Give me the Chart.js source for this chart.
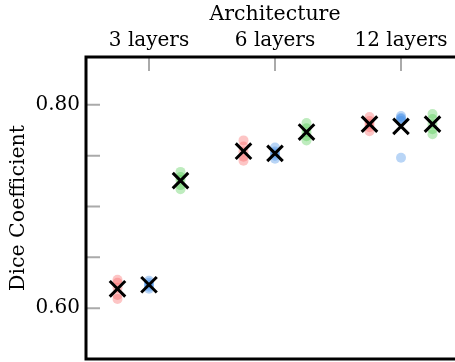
<!DOCTYPE html>
<html>
<head>
<meta charset="utf-8">
<script src="https://cdn.jsdelivr.net/npm/chart.js@4"></script>
<style>
  html, body { margin: 0; padding: 0; background: #fff; overflow: hidden; }
  #wrap { position: relative; width: 470px; height: 362px; }
</style>
</head>
<body>
<div id="wrap"><canvas id="diceChart"></canvas></div>
<script>
const categories = ['3 layers', '6 layers', '12 layers'];

// per-fold Dice scores, one row per architecture
const redScores = [
  [0.628, 0.625, 0.620, 0.613, 0.609],
  [0.765, 0.759, 0.754, 0.749, 0.745],
  [0.788, 0.784, 0.781, 0.778, 0.774]
];
const blueScores = [
  [0.627, 0.625, 0.623, 0.621, 0.619],
  [0.758, 0.754, 0.752, 0.750, 0.747],
  [0.789, 0.787, 0.786, 0.784, 0.748]
];
const greenScores = [
  [0.734, 0.729, 0.726, 0.721, 0.717],
  [0.782, 0.777, 0.773, 0.769, 0.765],
  [0.791, 0.786, 0.781, 0.776, 0.771]
];

const yTicks = [0.60, 0.65, 0.70, 0.75, 0.80];
const yLabelled = [0.60, 0.80];

const groups = [
  { scores: redScores,   color: 'rgba(250, 90, 90, 0.35)',  offset: -0.25 },
  { scores: blueScores,  color: 'rgba(55, 135, 230, 0.35)', offset: 0 },
  { scores: greenScores, color: 'rgba(70, 200, 70, 0.35)',  offset: 0.25 }
];

const mean = arr => arr.reduce((s, v) => s + v, 0) / arr.length;

const datasets = [];
groups.forEach(g => {
  // individual folds
  datasets.push({
    data: g.scores.flatMap((row, i) => row.map(v => ({ x: i + g.offset, y: v }))),
    backgroundColor: g.color,
    borderWidth: 0,
    pointRadius: 5,
    order: 2
  });
  // mean marker
  datasets.push({
    data: g.scores.map((row, i) => ({ x: i + g.offset, y: mean(row) })),
    pointStyle: 'crossRot',
    pointRadius: 11,
    borderColor: '#000',
    borderWidth: 3,
    order: 1
  });
});

// axis frame and inward tick marks
const framePlugin = {
  id: 'frame',
  beforeDatasetsDraw(chart) {
    const { ctx, chartArea: a, scales: { x, y } } = chart;
    ctx.save();
    ctx.strokeStyle = '#aaaaaa';
    ctx.lineWidth = 2;
    ctx.beginPath();
    x.ticks.forEach(t => {
      const px = x.getPixelForValue(t.value);
      ctx.moveTo(px, a.top);
      ctx.lineTo(px, a.top + 14);
    });
    y.ticks.forEach(t => {
      const py = y.getPixelForValue(t.value);
      ctx.moveTo(a.left, py);
      ctx.lineTo(a.left + 14, py);
    });
    ctx.stroke();
    ctx.strokeStyle = '#000';
    ctx.lineWidth = 3;
    ctx.beginPath();
    ctx.moveTo(a.right, a.top);
    ctx.lineTo(a.left, a.top);
    ctx.lineTo(a.left, a.bottom);
    ctx.lineTo(a.right, a.bottom);
    ctx.stroke();
    ctx.restore();
  }
};

Chart.defaults.font.family = "'DejaVu Serif', serif";
Chart.defaults.color = '#000';

new Chart(document.getElementById('diceChart'), {
  type: 'scatter',
  data: { datasets },
  options: {
    responsive: true,
    maintainAspectRatio: false,
    animation: false,
    layout: { autoPadding: false, padding: { top: 0, left: 0, right: 6, bottom: 3 } },
    plugins: { legend: { display: false }, tooltip: { enabled: false } },
    scales: {
      x: {
        position: 'top',
        min: -0.5,
        max: 2.5,
        afterBuildTicks: s => { s.ticks = categories.map((_, i) => ({ value: i })); },
        afterFit: s => { s.height = 57; s.paddingLeft = 0; s.paddingRight = 0; },
        ticks: {
          callback: v => categories[v],
          font: { size: 20 },
          padding: 4,
          maxRotation: 0
        },
        grid: { display: false, drawTicks: false },
        border: { display: false },
        title: { display: true, text: 'Architecture', font: { size: 20.5 }, padding: { top: 2, bottom: 0 } }
      },
      y: {
        min: 0.55,
        max: 0.847,
        afterBuildTicks: s => { s.ticks = yTicks.map(v => ({ value: v })); },
        afterFit: s => { s.width = 86; s.paddingTop = 0; s.paddingBottom = 0; },
        ticks: {
          callback: v => yLabelled.some(l => Math.abs(l - v) < 1e-9) ? v.toFixed(2) : '',
          font: { size: 20 },
          padding: 6
        },
        grid: { display: false, drawTicks: false },
        border: { display: false },
        title: { display: true, text: 'Dice Coefficient', font: { size: 20.5 }, padding: { top: 6, bottom: 0 } }
      }
    }
  },
  plugins: [framePlugin]
});
</script>
</body>
</html>
